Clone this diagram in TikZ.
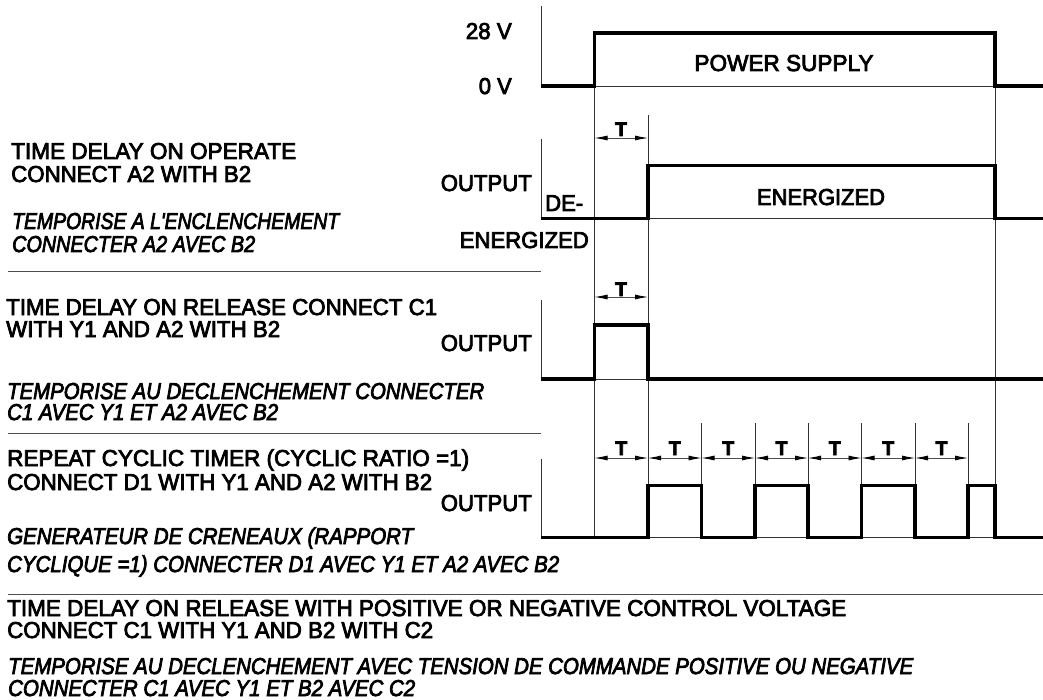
\documentclass[tikz,border=0pt]{standalone}
\usepackage{fontspec}
\usepackage{graphicx}
\setmainfont{Liberation Sans}[FakeBold=3.5,Ligatures=TeXOff]
\usetikzlibrary{arrows.meta}
\newcommand{\fitw}[2]{\resizebox{#1pt}{\height}{#2}}
\tikzset{
  thinln/.style={draw=black!80,line width=0.8pt},
  sep/.style={draw=black!70,line width=1pt},
  sig/.style={draw=black,line width=3.5pt,line cap=butt,line join=miter},
  dim/.style={draw=black!70,line width=0.8pt,{Latex[length=13pt,width=5pt,black]}-{Latex[length=13pt,width=5pt,black]}},
  lab/.style={inner sep=0pt,anchor=base west,font=\fontsize{23}{23}\selectfont},
  labr/.style={inner sep=0pt,anchor=base east,font=\fontsize{23}{23}\selectfont},
  labc/.style={inner sep=0pt,anchor=base,font=\fontsize{23}{23}\selectfont},
  tl/.style={inner sep=0pt,anchor=base,font=\fontsize{19.5}{19.5}\bfseries\selectfont},
  it/.style={lab,font=\fontsize{23}{23}\itshape\selectfont}
}
\begin{document}
\begin{tikzpicture}[x=1pt,y=-1pt]
\useasboundingbox (0,0) rectangle (1043,700);
% guide lines
\coordinate (g1t) at (594.5,33); \coordinate (g1b) at (594.5,538);
\coordinate (g2t) at (648,115); \coordinate (g2b) at (648,538);
\coordinate (g3t) at (995,33); \coordinate (g3b) at (995,538);
\draw[thinln] (g1t) -- (g1b);
\draw[thinln] (g2t) -- (g2b);
\draw[thinln] (g3t) -- (g3b);
\foreach \x/\n in {701.5/a,755/b,808/c,861.5/d,915/e,968/f}{
  \coordinate (t\n) at (\x,423); \coordinate (u\n) at (\x,485);
  \draw[thinln] (t\n) -- (u\n);
}
% axes
\foreach \n/\a/\b in {p/6/86,q/139/218.5,r/300/379,s/459/537.5}{
  \coordinate (ax\n) at (541,\a); \coordinate (ay\n) at (541,\b);
  \draw[thinln] (ax\n) -- (ay\n);
}
% thin baselines
\foreach \n/\y in {p/86,q/218.5,r/379,s/537.5}{
  \coordinate (be\n) at (1043,\y);
  \draw[thinln] (ay\n) -- (be\n);
}
% signals
\draw[sig] (ayp) -- (594.5,86) -- (594.5,33) -- (995,33) -- (995,86) -- (bep);
\draw[sig] (ayq) -- (648,218.5) -- (648,165.5) -- (995,165.5) -- (995,218.5) -- (beq);
\draw[sig] (ayr) -- (594.5,379) -- (594.5,325) -- (648,325) -- (648,379) -- (ber);
\draw[sig] (ays) -- (648,537.5) -- (648,485.5) -- (701.5,485.5) -- (701.5,537.5) -- (755,537.5) -- (755,485.5) -- (808,485.5) -- (808,537.5) -- (861.5,537.5) -- (861.5,485.5) -- (915,485.5) -- (915,537.5) -- (968,537.5) -- (968,485.5) -- (995,485.5) -- (995,537.5) -- (bes);
% separators
\coordinate (s1a) at (8,272); \coordinate (s1b) at (541,272);
\coordinate (s2a) at (8,433); \coordinate (s2b) at (541,433);
\coordinate (s3a) at (8,594); \coordinate (s3b) at (1043,594);
\draw[sep] (s1a) -- (s1b);
\draw[sep] (s2a) -- (s2b);
\draw[sep] (s3a) -- (s3b);
% dimensions
\coordinate (d1a) at (594.5,138); \coordinate (d1b) at (648,138);
\coordinate (d2a) at (594.5,297); \coordinate (d2b) at (648,297);
\draw[dim] (d1a) -- (d1b);
\draw[dim] (d2a) -- (d2b);
\node[tl] (t1) at (621,136) {T};
\node[tl] (t2) at (621,296) {T};
\foreach \i/\a/\b in {1/594.5/648,2/648/701.5,3/701.5/755,4/755/808,5/808/861.5,6/861.5/915,7/915/968}{
  \coordinate (ca\i) at (\a,458); \coordinate (cb\i) at (\b,458);
  \draw[dim] (ca\i) -- (cb\i);
  \node[tl] (ct\i) at ({(\a+\b)/2},455) {T};
}
% labels
\node[labr] (v28) at (512,39) {\fitw{46}{28 V}};
\node[labr] (v0) at (512,94) {\fitw{33}{0 V}};
\node[labc] (ps) at (784,71) {\fitw{179}{POWER SUPPLY}};
\node[labc] (en) at (821,205) {\fitw{128}{ENERGIZED}};
\node[labr] (o1) at (532,191) {\fitw{91}{OUTPUT}};
\node[lab] (de) at (545,211) {\fitw{38}{DE-}};
\node[labr] (ene) at (589,248) {\fitw{129}{ENERGIZED}};
\node[labr] (o2) at (532,351) {\fitw{91}{OUTPUT}};
\node[labr] (o3) at (532,511) {\fitw{91}{OUTPUT}};
\node[lab] (a1) at (11,159) {\fitw{285}{TIME DELAY ON OPERATE}};
\node[lab] (a2) at (11,182) {\fitw{240}{CONNECT A2 WITH B2}};
\node[it] (a3) at (12,229) {\fitw{327}{TEMPORISE A L'ENCLENCHEMENT}};
\node[it] (a4) at (12,252) {\fitw{243}{CONNECTER A2 AVEC B2}};
\node[lab] (b1) at (6,315) {\fitw{431}{TIME DELAY ON RELEASE CONNECT C1}};
\node[lab] (b2) at (6,337) {\fitw{274}{WITH Y1 AND A2 WITH B2}};
\node[it] (b3) at (7,399) {\fitw{477}{TEMPORISE AU DECLENCHEMENT CONNECTER}};
\node[it] (b4) at (7,420) {\fitw{271}{C1 AVEC Y1 ET A2 AVEC B2}};
\node[lab] (c1) at (7,466) {\fitw{462}{REPEAT CYCLIC TIMER (CYCLIC RATIO =1)}};
\node[lab] (c2) at (7,490) {\fitw{425}{CONNECT D1 WITH Y1 AND A2 WITH B2}};
\node[it] (c3) at (7,544) {\fitw{406}{GENERATEUR DE CRENEAUX (RAPPORT}};
\node[it] (c4) at (7,572) {\fitw{552}{CYCLIQUE =1) CONNECTER D1 AVEC Y1 ET A2 AVEC B2}};
\node[lab] (e1) at (7,616) {\fitw{839}{TIME DELAY ON RELEASE WITH POSITIVE OR NEGATIVE CONTROL VOLTAGE}};
\node[lab] (e2) at (7,638) {\fitw{426}{CONNECT C1 WITH Y1 AND B2 WITH C2}};
\node[it] (e3) at (8,674) {\fitw{905}{TEMPORISE AU DECLENCHEMENT AVEC TENSION DE COMMANDE POSITIVE OU NEGATIVE}};
\node[it] (e4) at (8,696) {\fitw{407}{CONNECTER C1 AVEC Y1 ET B2 AVEC C2}};
\end{tikzpicture}
\end{document}
